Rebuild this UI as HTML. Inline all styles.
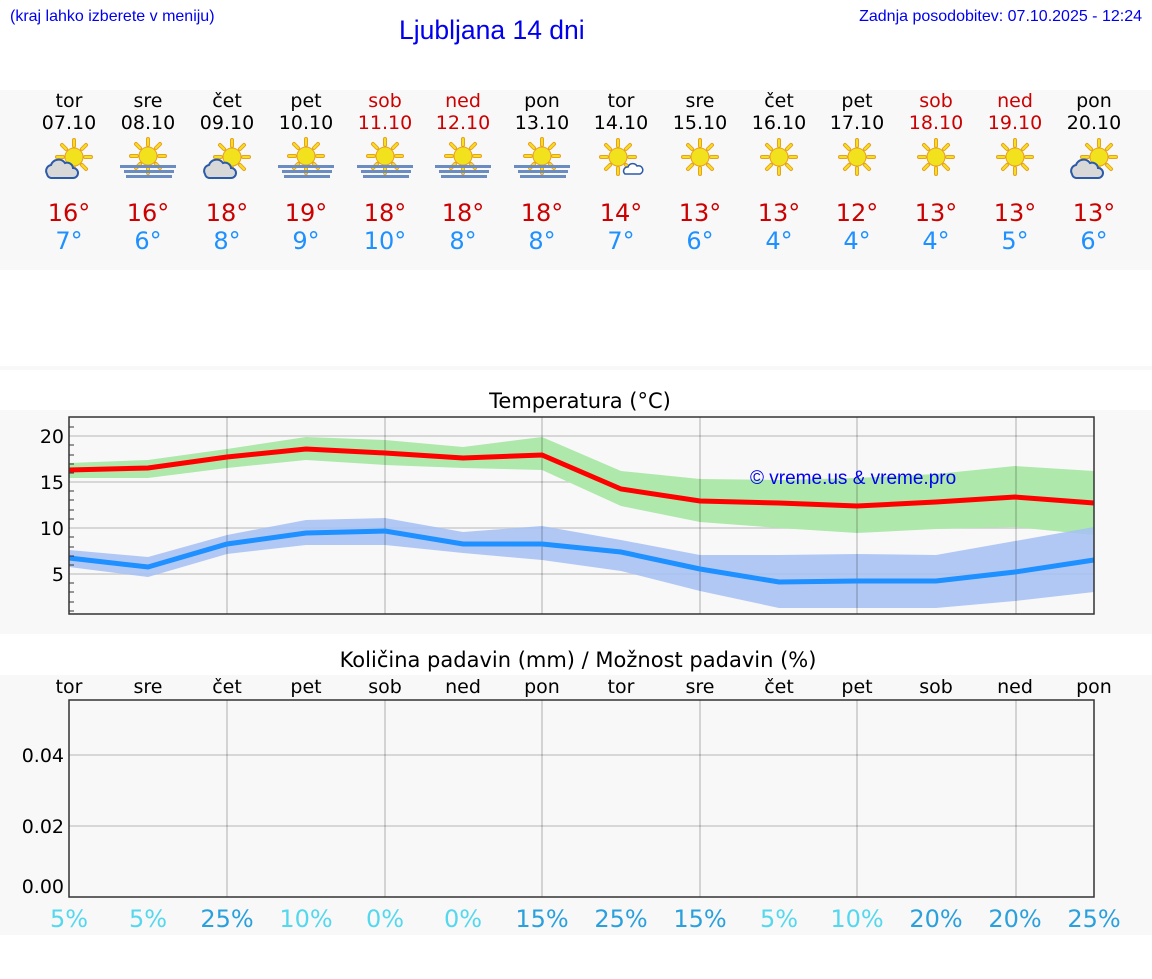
<!DOCTYPE html>
<html><head><meta charset="utf-8"><style>
body{margin:0;width:1152px;height:975px;background:#fff;font-family:"DejaVu Sans","Liberation Sans",sans-serif;overflow:hidden}
</style></head><body>
<svg width="1152" height="975" xmlns="http://www.w3.org/2000/svg" font-family="DejaVu Sans, Liberation Sans, sans-serif">
<defs>
<g id="sun"><g stroke="#e8a020" stroke-width="4" stroke-linecap="round"><line x1="0" y1="-17" x2="0" y2="-11"/><line x1="0" y1="17" x2="0" y2="11"/><line x1="-17" y1="0" x2="-11" y2="0"/><line x1="17" y1="0" x2="11" y2="0"/><line x1="-12" y1="-12" x2="-8" y2="-8"/><line x1="12" y1="-12" x2="8" y2="-8"/><line x1="-12" y1="12" x2="-8" y2="8"/><line x1="12" y1="12" x2="8" y2="8"/></g><g stroke="#f5e020" stroke-width="2" stroke-linecap="round"><line x1="0" y1="-17" x2="0" y2="-11"/><line x1="0" y1="17" x2="0" y2="11"/><line x1="-17" y1="0" x2="-11" y2="0"/><line x1="17" y1="0" x2="11" y2="0"/><line x1="-12" y1="-12" x2="-8" y2="-8"/><line x1="12" y1="-12" x2="8" y2="-8"/><line x1="-12" y1="12" x2="-8" y2="8"/><line x1="12" y1="12" x2="8" y2="8"/></g><circle r="9" fill="#f2e21e" stroke="#e8a020" stroke-width="1"/></g>
<g id="cs"><use href="#sun" x="5" y="-3"/><path d="M-22 14 a6 6 0 0 1 4-9 a8 8 0 0 1 14-2 a6 6 0 0 1 8 5 a5 5 0 0 1 0 10 h-22 a5 5 0 0 1 -4-4z" fill="#d8d8d8" stroke="#2a5aa8" stroke-width="2"/></g>
<g id="fog"><use href="#sun" x="0" y="-4"/><rect x="-28" y="5" width="56" height="3" fill="#6a8cc0"/><rect x="-24" y="10" width="50" height="3" fill="#6a8cc0"/><rect x="-22" y="15" width="46" height="3" fill="#6a8cc0"/></g>
<g id="sc"><use href="#sun" x="-3" y="-3"/><path d="M4 14 a4 4 0 0 1 3-7 a5 5 0 0 1 9-1 a4 4 0 0 1 3 8z" fill="#fff" stroke="#2a5aa8" stroke-width="1.5"/></g>
<g id="s"><use href="#sun"/></g>
</defs>
<text x="10" y="21" font-size="16" fill="#0000ee" font-family="Liberation Sans, sans-serif">(kraj lahko izberete v meniju)</text>
<text x="399" y="39" font-size="26.5" fill="#0000ee" font-family="Liberation Sans, sans-serif">Ljubljana 14 dni</text>
<text x="1142" y="21" font-size="16" fill="#0000ee" text-anchor="end" font-family="Liberation Sans, sans-serif">Zadnja posodobitev: 07.10.2025 - 12:24</text>
<rect x="0" y="90" width="1152" height="180" fill="#f8f8f8"/>
<rect x="0" y="366" width="1152" height="4" fill="#f8f8f8"/>
<rect x="0" y="410" width="1152" height="224" fill="#f8f8f8"/>
<rect x="0" y="675" width="1152" height="260" fill="#f8f8f8"/>
<g font-size="19" text-anchor="middle">
<g fill="#000">
<text x="69" y="107">tor</text><text x="148" y="107">sre</text><text x="227" y="107">čet</text><text x="306" y="107">pet</text><text x="542" y="107">pon</text><text x="621" y="107">tor</text><text x="700" y="107">sre</text><text x="779" y="107">čet</text><text x="857" y="107">pet</text><text x="1094" y="107">pon</text>
<text x="69" y="129">07.10</text><text x="148" y="129">08.10</text><text x="227" y="129">09.10</text><text x="306" y="129">10.10</text><text x="542" y="129">13.10</text><text x="621" y="129">14.10</text><text x="700" y="129">15.10</text><text x="779" y="129">16.10</text><text x="857" y="129">17.10</text><text x="1094" y="129">20.10</text>
</g>
<g fill="#cc0000">
<text x="385" y="107">sob</text><text x="463" y="107">ned</text><text x="936" y="107">sob</text><text x="1015" y="107">ned</text>
<text x="385" y="129">11.10</text><text x="463" y="129">12.10</text><text x="936" y="129">18.10</text><text x="1015" y="129">19.10</text>
</g>
</g>
<use href="#cs" x="69" y="160"/><use href="#fog" x="148" y="160"/><use href="#cs" x="227" y="160"/><use href="#fog" x="306" y="160"/><use href="#fog" x="385" y="160"/><use href="#fog" x="463" y="160"/><use href="#fog" x="542" y="160"/><use href="#sc" x="621" y="160"/><use href="#s" x="700" y="157"/><use href="#s" x="779" y="157"/><use href="#s" x="857" y="157"/><use href="#s" x="936" y="157"/><use href="#s" x="1015" y="157"/><use href="#cs" x="1094" y="160"/>
<g font-size="24" text-anchor="middle" fill="#cc0000">
<text x="69" y="221">16°</text><text x="148" y="221">16°</text><text x="227" y="221">18°</text><text x="306" y="221">19°</text><text x="385" y="221">18°</text><text x="463" y="221">18°</text><text x="542" y="221">18°</text><text x="621" y="221">14°</text><text x="700" y="221">13°</text><text x="779" y="221">13°</text><text x="857" y="221">12°</text><text x="936" y="221">13°</text><text x="1015" y="221">13°</text><text x="1094" y="221">13°</text>
</g>
<g font-size="24" text-anchor="middle" fill="#1e90ff">
<text x="69" y="249">7°</text><text x="148" y="249">6°</text><text x="227" y="249">8°</text><text x="306" y="249">9°</text><text x="385" y="249">10°</text><text x="463" y="249">8°</text><text x="542" y="249">8°</text><text x="621" y="249">7°</text><text x="700" y="249">6°</text><text x="779" y="249">4°</text><text x="857" y="249">4°</text><text x="936" y="249">4°</text><text x="1015" y="249">5°</text><text x="1094" y="249">6°</text>
</g>
<text x="580" y="408" font-size="21" text-anchor="middle">Temperatura (°C)</text>
<rect x="69" y="417" width="1025" height="197" fill="#f8f8f8"/>
<g stroke="#ccc" stroke-width="1.5">
<line x1="69" y1="436" x2="1094" y2="436"/><line x1="69" y1="482" x2="1094" y2="482"/><line x1="69" y1="528" x2="1094" y2="528"/><line x1="69" y1="574" x2="1094" y2="574"/>
</g>
<polygon fill="#aee8ab" points="69,463 148,460 227,449 306,437 385,440 463,447 542,437 621,471 700,479 779,480 857,478 936,474 1015,466 1094,471 1094,535 1015,527 936,529 857,533 779,528 700,522 621,506 542,470 463,468 385,465 306,460 227,468 148,478 69,478"/>
<polygon fill="#a4bff5" fill-opacity="0.85" points="69,550 148,557 227,535 306,520 385,518 463,532 542,526 621,540 700,555 779,555 857,554 936,555 1015,541 1094,527 1094,592 1015,601 936,608 857,608 779,608 700,591 621,571 542,560 463,553 385,545 306,545 227,554 148,577 69,567"/>
<g stroke="#000" stroke-opacity="0.15" stroke-width="2">
<line x1="227" y1="417" x2="227" y2="614"/><line x1="385" y1="417" x2="385" y2="614"/><line x1="542" y1="417" x2="542" y2="614"/><line x1="700" y1="417" x2="700" y2="614"/><line x1="857" y1="417" x2="857" y2="614"/><line x1="1016" y1="417" x2="1016" y2="614"/>
</g>
<polyline fill="none" stroke="#ff0000" stroke-width="5" points="69,470 148,468 227,457 306,449 385,453 463,458 542,455 621,489 700,501 779,503 857,506 936,502 1015,497 1094,503"/>
<polyline fill="none" stroke="#1e90ff" stroke-width="5" points="69,558 148,567 227,544 306,533 385,531 463,544 542,544 621,552 700,569 779,582 857,581 936,581 1015,572 1094,560"/>
<text x="750" y="484" font-size="19" fill="#0000ee" font-family="Liberation Sans, sans-serif">© vreme.us &amp; vreme.pro</text>
<rect x="69" y="417" width="1025" height="197" fill="none" stroke="#333" stroke-width="1.5"/>
<g stroke="#333" stroke-width="1">
<line x1="69" y1="427" x2="74" y2="427"/><line x1="69" y1="445" x2="74" y2="445"/><line x1="69" y1="455" x2="74" y2="455"/><line x1="69" y1="464" x2="74" y2="464"/><line x1="69" y1="473" x2="74" y2="473"/><line x1="69" y1="491" x2="74" y2="491"/><line x1="69" y1="500" x2="74" y2="500"/><line x1="69" y1="510" x2="74" y2="510"/><line x1="69" y1="519" x2="74" y2="519"/><line x1="69" y1="537" x2="74" y2="537"/><line x1="69" y1="547" x2="74" y2="547"/><line x1="69" y1="556" x2="74" y2="556"/><line x1="69" y1="565" x2="74" y2="565"/><line x1="69" y1="583" x2="74" y2="583"/><line x1="69" y1="592" x2="74" y2="592"/><line x1="69" y1="602" x2="74" y2="602"/><line x1="69" y1="611" x2="74" y2="611"/>
</g>
<g font-size="19" text-anchor="end">
<text x="64" y="443">20</text><text x="64" y="489">15</text><text x="64" y="535">10</text><text x="64" y="581">5</text>
</g>
<text x="578" y="667" font-size="21" text-anchor="middle">Količina padavin (mm) / Možnost padavin (%)</text>
<g font-size="19" text-anchor="middle">
<text x="69" y="693">tor</text><text x="148" y="693">sre</text><text x="227" y="693">čet</text><text x="306" y="693">pet</text><text x="385" y="693">sob</text><text x="463" y="693">ned</text><text x="542" y="693">pon</text><text x="621" y="693">tor</text><text x="700" y="693">sre</text><text x="779" y="693">čet</text><text x="857" y="693">pet</text><text x="936" y="693">sob</text><text x="1015" y="693">ned</text><text x="1094" y="693">pon</text>
</g>
<rect x="69" y="700" width="1025" height="197" fill="#f8f8f8"/>
<g stroke="#ccc" stroke-width="1.5"><line x1="69" y1="755" x2="1094" y2="755"/><line x1="69" y1="826" x2="1094" y2="826"/></g>
<g stroke="#000" stroke-opacity="0.15" stroke-width="2">
<line x1="227" y1="700" x2="227" y2="897"/><line x1="385" y1="700" x2="385" y2="897"/><line x1="542" y1="700" x2="542" y2="897"/><line x1="700" y1="700" x2="700" y2="897"/><line x1="857" y1="700" x2="857" y2="897"/><line x1="1016" y1="700" x2="1016" y2="897"/>
</g>
<rect x="69" y="700" width="1025" height="197" fill="none" stroke="#333" stroke-width="1.5"/>
<g font-size="19" text-anchor="end"><text x="64" y="762">0.04</text><text x="64" y="833">0.02</text><text x="64" y="893">0.00</text></g>
<g font-size="24" text-anchor="middle">
<text x="69" y="927" fill="#55d8ee">5%</text><text x="148" y="927" fill="#55d8ee">5%</text><text x="227" y="927" fill="#2aa0dd">25%</text><text x="306" y="927" fill="#55d8ee">10%</text><text x="385" y="927" fill="#55d8ee">0%</text><text x="463" y="927" fill="#55d8ee">0%</text><text x="542" y="927" fill="#2aa0dd">15%</text><text x="621" y="927" fill="#2aa0dd">25%</text><text x="700" y="927" fill="#2aa0dd">15%</text><text x="779" y="927" fill="#55d8ee">5%</text><text x="857" y="927" fill="#55d8ee">10%</text><text x="936" y="927" fill="#2aa0dd">20%</text><text x="1015" y="927" fill="#2aa0dd">20%</text><text x="1094" y="927" fill="#2aa0dd">25%</text>
</g>
</svg>
</body></html>
